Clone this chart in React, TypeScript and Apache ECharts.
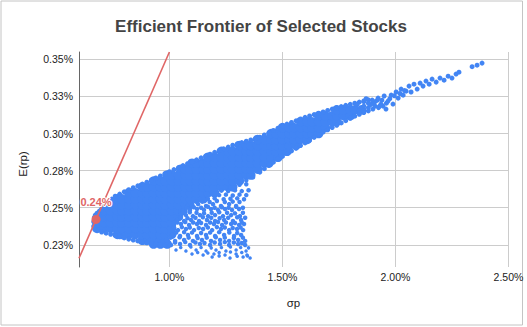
import React, { useEffect, useRef } from "react";
import * as echarts from "echarts";

const titleText = "Efficient Frontier of Selected Stocks";
const xAxisName = "σp";
const yAxisName = "E(rp)";

// values are in percent units
const xTicks = [1.0, 1.5, 2.0, 2.5];
const xTickLabels = ["1.00%", "1.50%", "2.00%", "2.50%"];
const yTicks = [0.225, 0.25, 0.275, 0.3, 0.325, 0.35];
const yTickLabels = ["0.23%", "0.25%", "0.28%", "0.30%", "0.33%", "0.35%"];

// capital allocation line (σp %, E(rp) %)
const calLine = [
  [0.6, 0.2159],
  [1.0, 0.355],
];
// tangency portfolio
const tangencyPoint = [0.6752, 0.2421];

// dense core of the simulated portfolios: [E(rp), σp values]
const coreRows: [number, number[]][] = [
  [0.2255, [0.93, 0.96, 0.99]],
  [0.228, [0.88, 0.9, 0.93, 0.96, 0.98]],
  [0.232, [0.77, 0.79, 0.82, 0.85, 0.88, 0.9, 0.93, 0.96, 0.98, 1.01]],
  [0.236, [0.68, 0.71, 0.74, 0.77, 0.79, 0.82, 0.85, 0.88, 0.9, 0.93, 0.96, 0.98, 1.01]],
  [0.24, [0.68, 0.71, 0.74, 0.77, 0.79, 0.82, 0.85, 0.88, 0.9, 0.93, 0.96, 0.98, 1.01]],
  [0.244, [0.69, 0.71, 0.74, 0.77, 0.79, 0.82, 0.85, 0.88, 0.9, 0.93, 0.96, 0.98, 1.01, 1.04]],
  [0.248, [0.71, 0.74, 0.77, 0.79, 0.82, 0.85, 0.88, 0.9, 0.93, 0.96, 0.98, 1.01, 1.04, 1.06]],
  [0.252, [0.74, 0.77, 0.79, 0.82, 0.85, 0.88, 0.9, 0.93, 0.96, 0.98, 1.01, 1.04, 1.07, 1.09]],
  [0.256, [0.77, 0.79, 0.82, 0.85, 0.88, 0.9, 0.93, 0.96, 0.98, 1.01, 1.04, 1.07, 1.09, 1.12, 1.15]],
  [0.26, [0.82, 0.85, 0.88, 0.9, 0.93, 0.96, 0.98, 1.01, 1.04, 1.07, 1.09, 1.12, 1.15, 1.17, 1.2]],
  [0.264, [0.88, 0.9, 0.93, 0.96, 0.98, 1.01, 1.04, 1.07, 1.09, 1.12, 1.15, 1.17, 1.2, 1.23, 1.26, 1.28]],
  [0.268, [0.93, 0.96, 0.98, 1.01, 1.04, 1.07, 1.09, 1.12, 1.15, 1.17, 1.2, 1.23, 1.26, 1.28, 1.31]],
  [0.272, [0.99, 1.01, 1.04, 1.07, 1.09, 1.12, 1.15, 1.17, 1.2, 1.23, 1.26, 1.28, 1.31, 1.34, 1.36]],
  [0.276, [1.05, 1.07, 1.09, 1.12, 1.15, 1.17, 1.2, 1.23, 1.26, 1.28, 1.31, 1.34, 1.36, 1.39]],
  [0.28, [1.1, 1.12, 1.15, 1.17, 1.2, 1.23, 1.26, 1.28, 1.31, 1.34, 1.36, 1.39, 1.42, 1.44]],
  [0.284, [1.17, 1.2, 1.23, 1.26, 1.28, 1.31, 1.34, 1.36, 1.39, 1.42, 1.45, 1.48]],
  [0.288, [1.23, 1.26, 1.28, 1.31, 1.34, 1.36, 1.39, 1.42, 1.45, 1.47, 1.5, 1.52]],
  [0.292, [1.31, 1.34, 1.36, 1.39, 1.42, 1.45, 1.47, 1.5, 1.53, 1.56]],
  [0.296, [1.39, 1.42, 1.45, 1.47, 1.5, 1.53, 1.55, 1.58, 1.61]],
  [0.3, [1.45, 1.47, 1.5, 1.53, 1.55, 1.58, 1.61, 1.63, 1.66]],
  [0.304, [1.5, 1.53, 1.55, 1.58, 1.61, 1.63, 1.66, 1.69]],
  [0.308, [1.58, 1.61, 1.63, 1.66, 1.69, 1.72, 1.74]],
  [0.312, [1.66, 1.69, 1.72, 1.74, 1.77, 1.8]],
  [0.316, [1.74, 1.77, 1.8, 1.82, 1.85]],
];

// portfolios along the outline of the cloud: [σp, E(rp)]
const edgePoints: number[][] = [
  [0.665, 0.2375], [0.665, 0.2405], [0.668, 0.2435], [0.672, 0.245],
  [0.68, 0.2463], [0.69, 0.2477], [0.7, 0.2491], [0.715, 0.2515], [0.73, 0.2538], [0.745, 0.2558],
  [0.76, 0.2577], [0.78, 0.2592], [0.8, 0.2607], [0.82, 0.2621], [0.84, 0.2635], [0.86, 0.2647],
  [0.88, 0.2659], [0.9, 0.2672], [0.92, 0.2685], [0.94, 0.27], [0.96, 0.2714], [0.98, 0.2729],
  [1.0, 0.2743], [1.02, 0.2757], [1.04, 0.277], [1.06, 0.2784], [1.08, 0.2797], [1.1, 0.281],
  [1.12, 0.2823], [1.14, 0.2836], [1.16, 0.2848], [1.18, 0.2861], [1.2, 0.2873], [1.22, 0.2885],
  [1.24, 0.2897], [1.26, 0.2909], [1.28, 0.2921], [1.3, 0.293], [1.32, 0.2939], [1.34, 0.2948],
  [1.36, 0.2957], [1.38, 0.2966], [1.4, 0.2975], [1.42, 0.299], [1.44, 0.3005], [1.46, 0.3021],
  [1.48, 0.3036], [1.5, 0.305], [1.52, 0.3064], [1.54, 0.3075], [1.56, 0.3086], [1.58, 0.3098],
  [1.6, 0.3109], [1.62, 0.3119], [1.64, 0.3128], [1.66, 0.3137], [1.68, 0.3146], [1.7, 0.3156],
  [1.72, 0.3165], [1.74, 0.3174], [1.76, 0.3182], [1.78, 0.319], [1.8, 0.3197], [1.82, 0.3205],
  [1.84, 0.3212], [1.86, 0.322], [1.88, 0.3227],
  [1.4, 0.274], [1.42, 0.2763], [1.44, 0.2787], [1.46, 0.2807], [1.48, 0.2828], [1.5, 0.2846],
  [1.52, 0.2865], [1.54, 0.2883], [1.56, 0.2901], [1.58, 0.2919], [1.6, 0.2937], [1.62, 0.2955],
  [1.64, 0.2974], [1.66, 0.2992], [1.68, 0.301], [1.7, 0.3025], [1.72, 0.3041], [1.74, 0.3056],
  [1.76, 0.3072], [1.78, 0.3087], [1.8, 0.3103], [1.82, 0.3117], [1.84, 0.313], [1.86, 0.3142],
  [1.88, 0.3153],
  [0.67, 0.2354], [0.7, 0.2336], [0.72, 0.2328], [0.74, 0.2321], [0.76, 0.2313], [0.78, 0.2304],
  [0.8, 0.2296], [0.82, 0.2288], [0.84, 0.2282], [0.86, 0.2276], [0.88, 0.2269], [0.9, 0.2263],
  [0.92, 0.2259], [0.94, 0.2255], [0.96, 0.225], [0.98, 0.2246],
];

// thinner high-risk tail of the frontier: [σp, E(rp)]
const bandPoints: number[][] = [
  [1.83, 0.3195], [1.86, 0.3215], [1.88, 0.3175], [1.84, 0.3155], [1.9, 0.3205], [1.92, 0.3225],
  [1.93, 0.3185], [1.87, 0.3235], [1.86, 0.3185], [1.89, 0.3195], [1.91, 0.3215], [1.94, 0.3225],
  [1.96, 0.3205], [1.975, 0.3235], [1.995, 0.3255], [2.02, 0.327], [2.04, 0.329], [1.88, 0.3205],
  [1.9, 0.3165], [1.925, 0.3175], [1.945, 0.3185],
  [1.897, 0.3226], [1.91, 0.3185], [1.923, 0.3239], [1.936, 0.3199], [1.95, 0.3253], [1.958, 0.3165],
  [1.967, 0.3219], [1.981, 0.3259], [1.989, 0.3199], [2.003, 0.328], [2.012, 0.3239], [2.025, 0.33],
  [2.034, 0.3259], [2.047, 0.3286], [2.06, 0.332], [2.069, 0.328], [2.082, 0.3333], [2.096, 0.33],
  [2.109, 0.334], [2.122, 0.332], [2.135, 0.3354], [2.149, 0.3333], [2.162, 0.3367], [2.18, 0.3347],
  [2.197, 0.3374], [2.215, 0.336], [2.233, 0.3387], [2.25, 0.3374], [2.268, 0.3401], [2.281, 0.3414],
  [2.339, 0.3451], [2.361, 0.3461], [2.383, 0.3475],
];

// scattered inefficient portfolios below the core: [σp, E(rp)]
const sparsePoints: number[][] = [
  [1.34, 0.2685], [1.37, 0.2705], [1.31, 0.2655], [1.34, 0.2658],
  [1.23, 0.2615], [1.26, 0.2612], [1.29, 0.2618], [1.32, 0.2612], [1.35, 0.2618],
  [1.22, 0.2585], [1.25, 0.2588], [1.28, 0.2582], [1.31, 0.2588], [1.34, 0.2585],
  [1.17, 0.256], [1.2, 0.2563], [1.24, 0.2557], [1.27, 0.256], [1.3, 0.2563], [1.33, 0.2557],
  [1.08, 0.2505], [1.1, 0.2515], [1.06, 0.248], [1.05, 0.2455], [1.12, 0.254],
  [1.127, 0.2524], [1.162, 0.2511], [1.193, 0.2524], [1.228, 0.2511], [1.264, 0.2524], [1.295, 0.2511],
  [1.145, 0.2541], [1.178, 0.2538], [1.21, 0.2545], [1.245, 0.2538], [1.28, 0.2541], [1.31, 0.2538],
  [1.091, 0.2484], [1.122, 0.2491], [1.153, 0.2484], [1.184, 0.2491], [1.215, 0.2484], [1.246, 0.2491],
  [1.277, 0.2484], [1.308, 0.2491],
  [1.075, 0.25], [1.108, 0.2503], [1.14, 0.25], [1.17, 0.2506], [1.2, 0.25], [1.232, 0.2503],
  [1.262, 0.25], [1.295, 0.2506], [1.325, 0.25],
  [1.073, 0.245], [1.104, 0.2443], [1.135, 0.245], [1.171, 0.2443], [1.202, 0.245], [1.237, 0.2443],
  [1.273, 0.245], [1.312, 0.2443],
  [1.06, 0.2466], [1.09, 0.2469], [1.12, 0.2466], [1.153, 0.2462], [1.187, 0.2466], [1.22, 0.2469],
  [1.255, 0.2466], [1.29, 0.2462], [1.325, 0.2466],
  [1.034, 0.2417], [1.065, 0.241], [1.096, 0.2417], [1.131, 0.241], [1.166, 0.2417], [1.202, 0.241],
  [1.242, 0.2417], [1.281, 0.241], [1.317, 0.2417],
  [1.05, 0.2432], [1.08, 0.2429], [1.115, 0.2432], [1.148, 0.2436], [1.185, 0.2432], [1.222, 0.2429],
  [1.26, 0.2432], [1.3, 0.2436], [1.335, 0.2432],
  [1.02, 0.2383], [1.051, 0.239], [1.087, 0.2383], [1.122, 0.239], [1.162, 0.2383], [1.197, 0.239],
  [1.233, 0.2383], [1.273, 0.239], [1.308, 0.2383], [1.33, 0.239],
  [1.035, 0.24], [1.07, 0.2403], [1.105, 0.24], [1.14, 0.2397], [1.18, 0.24], [1.215, 0.2403],
  [1.25, 0.24], [1.29, 0.2397], [1.32, 0.24],
  [1.038, 0.2349], [1.073, 0.2356], [1.109, 0.2349], [1.149, 0.2356], [1.189, 0.2349], [1.228, 0.2356],
  [1.264, 0.2349], [1.299, 0.2356], [1.326, 0.2349],
  [1.02, 0.2366], [1.055, 0.2369], [1.09, 0.2366], [1.13, 0.2363], [1.17, 0.2366], [1.21, 0.2369],
  [1.245, 0.2366], [1.28, 0.2363], [1.315, 0.2366],
  [1.012, 0.2316], [1.047, 0.2309], [1.082, 0.2316], [1.122, 0.2309], [1.162, 0.2316], [1.202, 0.2309],
  [1.242, 0.2316], [1.286, 0.2309], [1.317, 0.2316],
  [1.03, 0.2332], [1.065, 0.2335], [1.1, 0.2332], [1.14, 0.2329], [1.18, 0.2332], [1.22, 0.2335],
  [1.265, 0.2332], [1.3, 0.2329],
  [0.989, 0.2282], [1.025, 0.2276], [1.065, 0.2282], [1.104, 0.2276], [1.144, 0.2282], [1.184, 0.2276],
  [1.224, 0.2282], [1.264, 0.2276], [1.304, 0.2282], [1.335, 0.2276],
  [1.005, 0.2298], [1.045, 0.2301], [1.085, 0.2298], [1.125, 0.2295], [1.165, 0.2298], [1.205, 0.2301],
  [1.245, 0.2298], [1.285, 0.2295], [1.325, 0.2298],
  [1.007, 0.2248], [1.047, 0.2255], [1.091, 0.2248], [1.135, 0.2255], [1.18, 0.2248], [1.224, 0.2255],
  [1.264, 0.2248], [1.304, 0.2255], [1.335, 0.2248],
  [1.025, 0.2265], [1.07, 0.2268], [1.115, 0.2265], [1.155, 0.2262], [1.2, 0.2265], [1.245, 0.2268],
  [1.285, 0.2265], [1.32, 0.2262],
  [1.029, 0.2215], [1.073, 0.2208], [1.118, 0.2215], [1.162, 0.2208], [1.206, 0.2215], [1.25, 0.2208],
  [1.295, 0.2215], [1.339, 0.2208],
  [1.05, 0.2232], [1.095, 0.2235], [1.14, 0.2232], [1.185, 0.2229], [1.23, 0.2232], [1.27, 0.2235],
  [1.315, 0.2232], [1.35, 0.2229],
  [1.1, 0.2188], [1.149, 0.2181], [1.197, 0.2188], [1.246, 0.2181], [1.295, 0.2188], [1.343, 0.2181],
  [1.125, 0.2198], [1.17, 0.2195], [1.22, 0.2198], [1.27, 0.2201], [1.32, 0.2198],
  [1.189, 0.2167], [1.268, 0.216], [1.326, 0.2167], [1.357, 0.216], [1.22, 0.2175], [1.3, 0.2172],
  [1.345, 0.2175],
];

function pickLabel(ticks: number[], labels: string[], v: number) {
  let best = 0;
  ticks.forEach((t, i) => {
    if (Math.abs(t - v) < Math.abs(ticks[best] - v)) best = i;
  });
  return labels[best];
}

export default function App() {
  const ref = useRef<HTMLDivElement>(null);
  useEffect(() => {
    document.body.style.margin = "0";
    const chart = echarts.init(ref.current!, null, { renderer: "svg" });
    const blue = "#4285f4";
    const red = "#e06666";
    const font = "Arial, 'Liberation Sans', sans-serif";
    const corePts = coreRows.flatMap(([e, xs]) => xs.map((s) => [s, e]));
    const dot = { color: blue, opacity: 1 };
    chart.setOption({
      animation: false,
      backgroundColor: "#ffffff",
      grid: { left: 79, right: 18.5, top: 52, bottom: 60 },
      xAxis: {
        type: "value",
        min: 0.6,
        max: 2.5,
        axisLine: { show: false },
        axisTick: { show: false, customValues: xTicks },
        splitLine: { show: true, lineStyle: { color: "#cccccc", width: 1 } },
        axisLabel: {
          customValues: xTicks,
          formatter: (v: number) => pickLabel(xTicks, xTickLabels, v),
          color: "#222222",
          fontSize: 10.5,
          fontFamily: font,
          margin: 4.5,
        },
      },
      yAxis: {
        type: "value",
        min: 0.21,
        max: 0.355,
        axisLine: { show: true, onZero: false, lineStyle: { color: "#666666", width: 1 } },
        axisTick: { show: false, customValues: yTicks },
        splitLine: { show: true, lineStyle: { color: "#cccccc", width: 1 } },
        axisLabel: {
          customValues: yTicks,
          formatter: (v: number) => pickLabel(yTicks, yTickLabels, v),
          color: "#222222",
          fontSize: 10.5,
          fontFamily: font,
          margin: 6,
        },
      },
      graphic: [
        {
          type: "rect",
          z: -10,
          shape: { x: 1, y: 1, width: 521.5, height: 324 },
          style: { fill: "none", stroke: "#c4c4c4", lineWidth: 1 },
        },
        {
          type: "text",
          x: 261,
          y: 26,
          style: {
            text: titleText,
            align: "center",
            verticalAlign: "middle",
            fontSize: 17,
            fontWeight: "bold",
            fontFamily: font,
            fill: "#444444",
          },
        },
        {
          type: "text",
          x: 23,
          y: 164,
          rotation: Math.PI / 2,
          style: {
            text: yAxisName,
            align: "center",
            verticalAlign: "middle",
            fontSize: 11.5,
            fontFamily: font,
            fill: "#222222",
          },
        },
        {
          type: "text",
          x: 293.5,
          y: 303,
          style: {
            text: xAxisName,
            align: "center",
            verticalAlign: "middle",
            fontSize: 11.5,
            fontFamily: font,
            fill: "#222222",
          },
        },
      ],
      series: [
        { type: "scatter", data: corePts, symbolSize: 9.5, itemStyle: dot, silent: true },
        { type: "scatter", data: edgePoints, symbolSize: 5, itemStyle: dot, silent: true },
        { type: "scatter", data: bandPoints, symbolSize: 5, itemStyle: dot, silent: true },
        {
          type: "scatter",
          data: sparsePoints,
          symbolSize: (v: number[]) => (v[1] < 0.2245 ? 3.5 : 4.5),
          itemStyle: dot,
          silent: true,
        },
        {
          type: "line",
          data: calLine,
          symbol: "none",
          lineStyle: { color: red, width: 1.6 },
          z: 5,
          silent: true,
        },
        {
          type: "scatter",
          data: [tangencyPoint],
          symbolSize: 9,
          itemStyle: { color: red, opacity: 1 },
          z: 6,
          label: {
            show: true,
            position: "top",
            distance: 7,
            formatter: (p: any) => p.value[1].toFixed(2) + "%",
            color: red,
            fontWeight: "bold",
            fontSize: 11,
            fontFamily: font,
            textBorderColor: "#ffffff",
            textBorderWidth: 2,
          },
        },
      ],
    });
    return () => chart.dispose();
  }, []);
  return <div ref={ref} style={{ width: 527, height: 327 }} />;
}
